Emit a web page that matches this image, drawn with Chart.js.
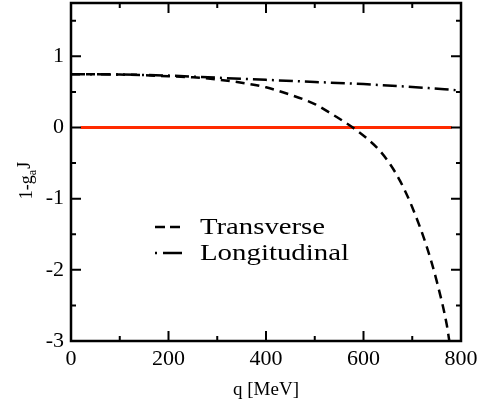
<!DOCTYPE html>
<html lang="en">
<head>
    <meta charset="UTF-8">
    <title>1-g_a J vs q</title>
    <script src="https://cdn.jsdelivr.net/npm/chart.js@4.4.1/dist/chart.umd.min.js"></script>
    <style>
        html, body { margin: 0; padding: 0; background: #fff; }
        .chart-container { position: relative; width: 484px; height: 407px; }
    </style>
</head>
<body>
    <div class="chart-container">
        <canvas id="gaChart"></canvas>
    </div>

    <script>
        // Data
        const transverseQ = [0, 50, 100, 150, 200, 250, 300, 350, 400, 450, 500, 530, 578, 610, 634, 655, 675, 700, 730, 751, 771, 776];
        const transverseY = [0.75, 0.75, 0.745, 0.735, 0.72, 0.705, 0.675, 0.63, 0.565, 0.46, 0.33, 0.21, 0.0, -0.17, -0.33, -0.52, -0.75, -1.12, -1.68, -2.18, -2.78, -3.0];
        const longitudinalQ = [0, 100, 200, 300, 400, 500, 600, 700, 800];
        const longitudinalY = [0.75, 0.745, 0.73, 0.70, 0.67, 0.64, 0.61, 0.57, 0.52];
        const zeroQ = [20, 781];
        const zeroY = [0, 0];

        const xTicks = [0, 200, 400, 600, 800];
        const xMinorTicks = [100, 300, 500, 700];
        const yTicks = [-3, -2, -1, 0, 1];
        const yMinorTicks = [-2.5, -1.5, -0.5, 0.5, 1.5];

        const serif = '"Liberation Serif", "DejaVu Serif", serif';

        function toPoints(xs, ys) {
            return xs.map((x, i) => ({ x: x, y: ys[i] }));
        }

        // Frame with inward ticks on all four sides, legend and y title
        const framePlugin = {
            id: 'framePlugin',
            afterDatasetsDraw(chart) {
                const ctx = chart.ctx;
                const a = chart.chartArea;
                const xs = chart.scales.x, ys = chart.scales.y;
                ctx.save();
                ctx.strokeStyle = '#000';
                ctx.lineWidth = 2;
                ctx.setLineDash([]);
                xTicks.concat(xMinorTicks).forEach(v => {
                    const len = xTicks.includes(v) ? 10 : 5;
                    const px = xs.getPixelForValue(v);
                    ctx.beginPath();
                    ctx.moveTo(px, a.bottom); ctx.lineTo(px, a.bottom - len);
                    ctx.moveTo(px, a.top); ctx.lineTo(px, a.top + len);
                    ctx.stroke();
                });
                yTicks.concat(yMinorTicks).forEach(v => {
                    const len = yTicks.includes(v) ? 10 : 5;
                    const py = ys.getPixelForValue(v);
                    ctx.beginPath();
                    ctx.moveTo(a.left, py); ctx.lineTo(a.left + len, py);
                    ctx.moveTo(a.right, py); ctx.lineTo(a.right - len, py);
                    ctx.stroke();
                });
                ctx.lineWidth = 2.5;
                ctx.strokeRect(a.left, a.top, a.right - a.left, a.bottom - a.top);

                // legend (samples + labels, text stretched a bit like the original)
                const legendDash = [[10, 5], [2, 6, 19, 0]];
                const legendWidth = [125, 149];
                ctx.fillStyle = '#000';
                ctx.textBaseline = 'alphabetic';
                [chart.data.datasets[0], chart.data.datasets[1]].forEach((ds, i) => {
                    const base = 234 + i * 26;
                    ctx.lineWidth = 2.5;
                    ctx.setLineDash(legendDash[i]);
                    ctx.beginPath();
                    ctx.moveTo(155, base - 7); ctx.lineTo(182, base - 7);
                    ctx.stroke();
                    ctx.setLineDash([]);
                    ctx.font = '24px ' + serif;
                    const w = ctx.measureText(ds.label).width;
                    ctx.save();
                    ctx.translate(200, base);
                    ctx.scale(legendWidth[i] / w, 1);
                    ctx.fillText(ds.label, 0, 0);
                    ctx.restore();
                });

                // y axis title: 1-g_a J
                ctx.translate(26, 181);
                ctx.rotate(-Math.PI / 2);
                const part1 = '1-g', sub = 'a', part3 = 'J';
                ctx.font = '18px ' + serif;
                const w1 = ctx.measureText(part1).width;
                ctx.font = '12px ' + serif;
                const w2 = ctx.measureText(sub).width;
                ctx.font = '18px ' + serif;
                const w3 = ctx.measureText(part3).width;
                let x0 = -(w1 + w2 + w3) / 2;
                ctx.fillText(part1, x0, 6);
                ctx.font = '12px ' + serif;
                ctx.fillText(sub, x0 + w1, 10);
                ctx.font = '18px ' + serif;
                ctx.fillText(part3, x0 + w1 + w2 + 1, 4);
                ctx.restore();
            }
        };

        const ctx = document.getElementById('gaChart').getContext('2d');
        new Chart(ctx, {
            type: 'line',
            data: {
                datasets: [
                    {
                        label: 'Transverse',
                        data: toPoints(transverseQ, transverseY),
                        borderColor: '#000',
                        borderWidth: 2.5,
                        borderDash: [9, 6],
                        cubicInterpolationMode: 'monotone',
                        pointRadius: 0,
                        fill: false
                    },
                    {
                        label: 'Longitudinal',
                        data: toPoints(longitudinalQ, longitudinalY),
                        borderColor: '#000',
                        borderWidth: 2.5,
                        borderDash: [14, 5, 2, 5],
                        cubicInterpolationMode: 'monotone',
                        pointRadius: 0,
                        fill: false
                    },
                    {
                        label: 'zero',
                        data: toPoints(zeroQ, zeroY),
                        borderColor: '#ff2a00',
                        borderWidth: 3,
                        pointRadius: 0,
                        fill: false
                    }
                ]
            },
            options: {
                responsive: true,
                maintainAspectRatio: false,
                animation: false,
                layout: { padding: { top: 3, right: 23, left: 0, bottom: 0 } },
                scales: {
                    x: {
                        type: 'linear',
                        min: 0,
                        max: 800,
                        afterFit: s => { s.height = 66; s.paddingLeft = 0; s.paddingRight = 0; },
                        afterBuildTicks: s => { s.ticks = xTicks.map(v => ({ value: v })); },
                        grid: { display: false, drawTicks: false },
                        border: { display: false },
                        ticks: { color: '#000', padding: 5, maxRotation: 0, font: { family: serif, size: 22 } },
                        title: { display: true, text: 'q [MeV]', color: '#000', padding: { top: 2, bottom: 6 }, font: { family: serif, size: 19 } }
                    },
                    y: {
                        type: 'linear',
                        min: -3,
                        max: 1.75,
                        afterFit: s => { s.width = 71; s.paddingTop = 0; s.paddingBottom = 0; },
                        afterBuildTicks: s => { s.ticks = yTicks.map(v => ({ value: v })); },
                        grid: { display: false, drawTicks: false },
                        border: { display: false },
                        ticks: { color: '#000', padding: 7, font: { family: serif, size: 22 } }
                    }
                },
                plugins: {
                    legend: { display: false },
                    tooltip: { enabled: false }
                }
            },
            plugins: [framePlugin]
        });
    </script>
</body>
</html>
